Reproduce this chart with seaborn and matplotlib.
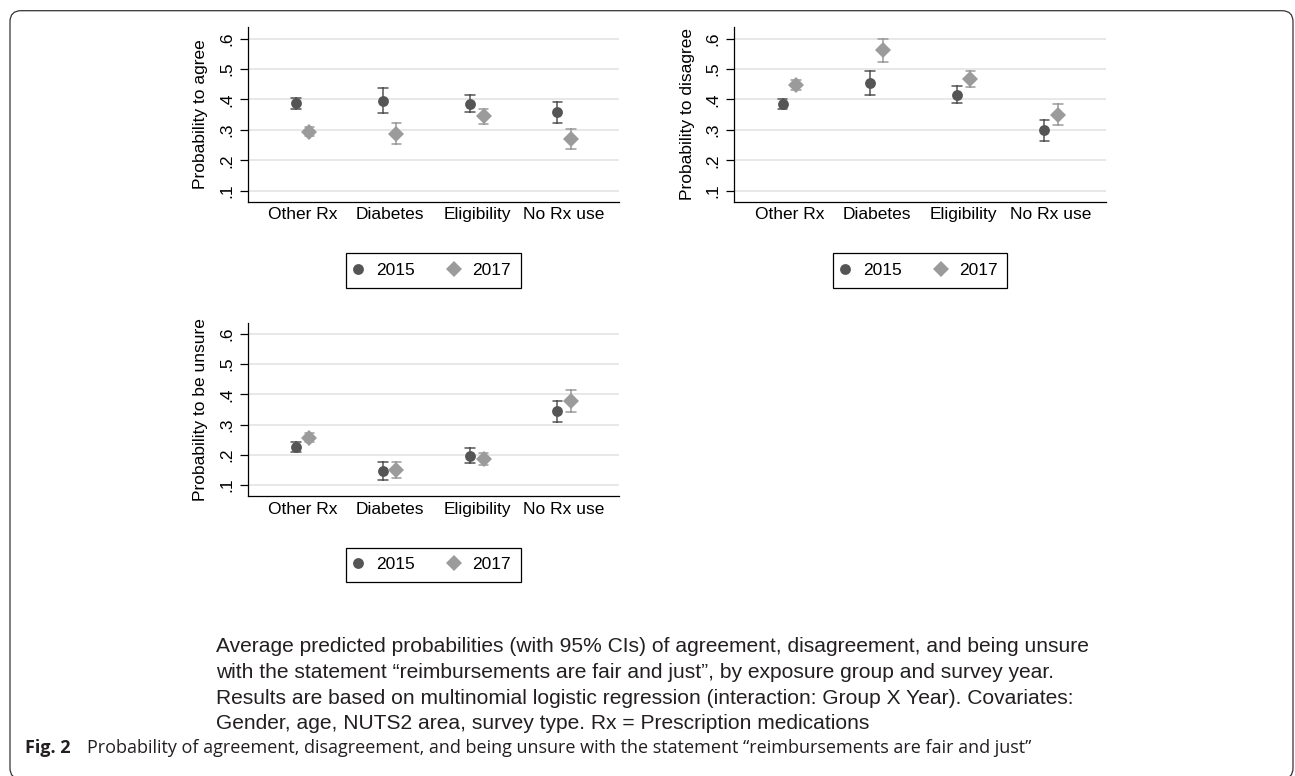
import numpy as np
import pandas as pd
import matplotlib
matplotlib.use("Agg")
import matplotlib.pyplot as plt
import seaborn as sns
from matplotlib.patches import FancyBboxPatch
from matplotlib.transforms import IdentityTransform

# ---------------- data ----------------
groups = ["Other Rx", "Diabetes", "Eligibility", "No Rx use"]
years = ["2015", "2017"]

agree_2015_est = [0.388, 0.396, 0.386, 0.358]
agree_2015_lo = [0.370, 0.357, 0.358, 0.324]
agree_2015_hi = [0.405, 0.439, 0.415, 0.391]
agree_2017_est = [0.294, 0.287, 0.344, 0.270]
agree_2017_lo = [0.280, 0.253, 0.319, 0.238]
agree_2017_hi = [0.309, 0.322, 0.369, 0.302]

disagree_2015_est = [0.385, 0.455, 0.416, 0.299]
disagree_2015_lo = [0.369, 0.413, 0.388, 0.264]
disagree_2015_hi = [0.403, 0.495, 0.444, 0.332]
disagree_2017_est = [0.449, 0.561, 0.467, 0.349]
disagree_2017_lo = [0.431, 0.524, 0.440, 0.315]
disagree_2017_hi = [0.465, 0.599, 0.494, 0.385]

unsure_2015_est = [0.226, 0.147, 0.196, 0.344]
unsure_2015_lo = [0.211, 0.116, 0.173, 0.310]
unsure_2015_hi = [0.242, 0.178, 0.222, 0.378]
unsure_2017_est = [0.257, 0.149, 0.187, 0.378]
unsure_2017_lo = [0.242, 0.122, 0.167, 0.343]
unsure_2017_hi = [0.272, 0.178, 0.206, 0.413]

ytick_values = [0.1, 0.2, 0.3, 0.4, 0.5, 0.6]
ytick_labels = [".1", ".2", ".3", ".4", ".5", ".6"]

ylabels = ["Probability to agree", "Probability to disagree", "Probability to be unsure"]

caption_lines = [
    "Average predicted probabilities (with 95% CIs) of agreement, disagreement, and being unsure",
    "with the statement \u201creimbursements are fair and just\u201d, by exposure group and survey year.",
    "Results are based on multinomial logistic regression (interaction: Group X Year). Covariates:",
    "Gender, age, NUTS2 area, survey type. Rx = Prescription medications",
]
fig_label = "Fig. 2"
fig_title = ("Probability of agreement, disagreement, and being unsure with the statement "
             "\u201creimbursements are fair and just\u201d")


def long_frame(e15, l15, h15, e17, l17, h17):
    rows = []
    for yr, (e, l, h) in zip(years, [(e15, l15, h15), (e17, l17, h17)]):
        for g, ev, lv, hv in zip(groups, e, l, h):
            for v in (lv, ev, hv):
                rows.append({"group": g, "year": yr, "value": v})
    return pd.DataFrame(rows)


panels = [
    long_frame(agree_2015_est, agree_2015_lo, agree_2015_hi,
               agree_2017_est, agree_2017_lo, agree_2017_hi),
    long_frame(disagree_2015_est, disagree_2015_lo, disagree_2015_hi,
               disagree_2017_est, disagree_2017_lo, disagree_2017_hi),
    long_frame(unsure_2015_est, unsure_2015_lo, unsure_2015_hi,
               unsure_2017_est, unsure_2017_lo, unsure_2017_hi),
]

# ---------------- style ----------------
sns.set_style("white")
plt.rcParams["font.family"] = ["Liberation Sans", "DejaVu Sans"]
for k in ["text.color", "axes.labelcolor", "xtick.color", "ytick.color", "axes.edgecolor"]:
    plt.rcParams[k] = "black"

W, H = 1295, 776
fig = plt.figure(figsize=(W / 100, H / 100), dpi=100)
fig.patch.set_facecolor("white")

FS = 12.5
palette = ["#555555", "#9b9b9b"]

# axes rectangles in pixels (left, top, right, bottom)
rects = [
    (247.7, 27.3, 619.0, 201.7),
    (734.3, 27.3, 1106.0, 201.7),
    (247.7, 322.7, 619.0, 496.0),
]

for df, (l, t, r, b), ylab in zip(panels, rects, ylabels):
    ax = fig.add_axes([l / W, 1 - b / H, (r - l) / W, (b - t) / H])
    sns.pointplot(
        data=df, x="group", y="value", hue="year",
        order=groups, hue_order=years,
        estimator="median", errorbar=lambda v: (v.min(), v.max()),
        palette=palette, markers=["o", "D"], linestyles="none",
        dodge=0.154, capsize=0.11, err_kws={"linewidth": 1.1},
        markersize=7.8, markeredgewidth=0, ax=ax,
    )
    ax.set_xlim(-0.63, 3.63)
    ax.set_ylim(0.064, 0.637)
    ax.set_yticks(ytick_values)
    ax.set_yticklabels(ytick_labels, rotation=90, va="center")
    ax.yaxis.grid(True, color="#e1e1e1", linewidth=1.1)
    ax.xaxis.grid(False)
    ax.set_axisbelow(True)
    sns.despine(ax=ax)
    for s in ["left", "bottom"]:
        ax.spines[s].set_linewidth(0.9)
        ax.spines[s].set_color("black")
    ax.tick_params(axis="y", left=True, length=5.8, width=0.9, direction="out",
                   pad=4, labelsize=FS)
    ax.tick_params(axis="x", bottom=False, length=0, pad=4, labelsize=FS)
    ax.set_xlabel("")
    ax.set_ylabel(ylab, fontsize=FS, labelpad=8)

    axh = b - t
    sns.move_legend(
        ax, "upper center", bbox_to_anchor=(0.5, -51.6 / axh),
        ncol=2, title=None, frameon=True, fancybox=False, fontsize=FS,
        borderpad=0.55, handlelength=0.3, handletextpad=0.9, columnspacing=2.1,
        borderaxespad=0,
    )
    leg = ax.get_legend()
    leg.get_frame().set_edgecolor("black")
    leg.get_frame().set_linewidth(0.9)
    leg.get_frame().set_alpha(1)

# ---------------- frame ----------------
frame = FancyBboxPatch((10, -3), 1283, 768.3,
                       boxstyle="round,pad=0,rounding_size=11",
                       transform=IdentityTransform(), fill=False,
                       edgecolor="#333333", linewidth=0.9)
fig.add_artist(frame)

# ---------------- captions ----------------
renderer = fig.canvas.get_renderer()


def fit(txt, target_px):
    w = txt.get_window_extent(renderer).width
    txt.set_fontsize(txt.get_fontsize() * target_px / w)


cap_y = [646.5, 672.3, 698.1, 723.9]
texts = []
for line, y in zip(caption_lines, cap_y):
    texts.append(fig.text(216 / W, 1 - y / H, line, ha="left", va="center",
                          fontsize=14, color="#231f20"))
fit(texts[0], 878)
for t_ in texts[1:]:
    t_.set_fontsize(texts[0].get_fontsize())

cap_font = ["Open Sans", "DejaVu Sans"]
t_lab = fig.text(25 / W, 1 - 748 / H, fig_label, ha="left", va="center",
                 fontsize=11, fontweight="bold", family=cap_font, color="#231f20")
t_tit = fig.text(87 / W, 1 - 748 / H, fig_title, ha="left", va="center",
                 fontsize=11, family=cap_font, color="#231f20")
fit(t_tit, 945)
t_lab.set_fontsize(t_tit.get_fontsize())

fig.savefig("out.png", dpi=100, facecolor="white")
